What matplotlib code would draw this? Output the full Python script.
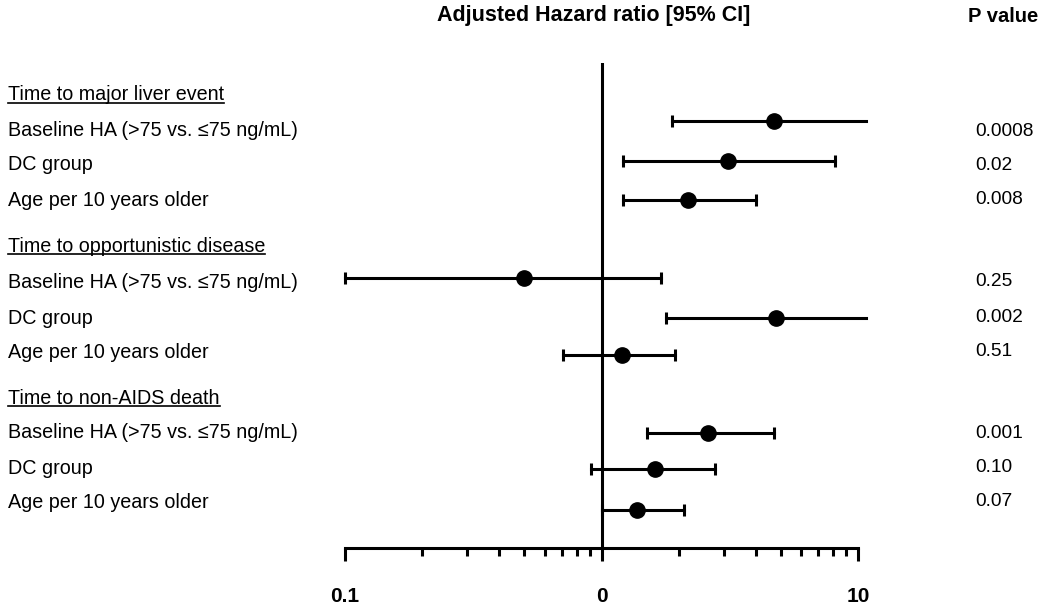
import matplotlib
matplotlib.use("Agg")
import matplotlib.pyplot as plt
from matplotlib.ticker import LogLocator, NullFormatter, FixedLocator, FixedFormatter
from matplotlib.transforms import blended_transform_factory
from matplotlib.lines import Line2D

plt.rcParams['font.family'] = ['Liberation Sans', 'DejaVu Sans']

# Data
groups = ["Time to major liver event", "Time to opportunistic disease", "Time to non-AIDS death"]
variables = ["Baseline HA (>75 vs. \u226475 ng/mL)", "DC group", "Age per 10 years older"]
hr = [4.69, 3.10, 2.18, 0.50, 4.77, 1.20, 2.59, 1.61, 1.38]
ci_low = [1.89, 1.21, 1.21, 0.10, 1.79, 0.705, 1.50, 0.906, 1.00]
ci_high = [10.7, 8.17, 4.02, 1.71, 10.7, 1.93, 4.69, 2.78, 2.09]
p_values = ["0.0008", "0.02", "0.008", "0.25", "0.002", "0.51", "0.001", "0.10", "0.07"]
tick_vals = [0.1, 1, 10]
tick_labels = ["0.1", "0", "10"]

# layout (pixel rows from top)
W, H = 1050, 610
header_y = [95, 246, 398]
bar_y = [121, 161, 200, 278, 318, 355, 433, 469, 510]
label_y = [131, 165, 200, 282, 318, 352, 433, 468, 502]

fig = plt.figure(figsize=(W / 100, H / 100), dpi=100)
ax = fig.add_axes([345 / W, (H - 548) / H, (858 - 345) / W, (548 - 63) / H])
ax.set_xscale("log")
ax.set_xlim(0.1, 10)
ax.set_ylim(548, 63)

lw = 2.2
ax.axvline(1, color="black", lw=lw, zorder=1)

for i in range(len(hr)):
    y = bar_y[i]
    ax.plot([ci_low[i], ci_high[i]], [y, y], color="black", lw=lw, clip_on=False, zorder=2)
    for end in (ci_low[i], ci_high[i]):
        if 0.1 <= end <= 10:
            ax.plot([end], [y], marker="|", markersize=8, markeredgewidth=lw,
                    color="black", clip_on=False, zorder=2)
    ax.plot([hr[i]], [y], marker="o", markersize=11, color="black", clip_on=False, zorder=3)

for s in ["top", "right", "left"]:
    ax.spines[s].set_visible(False)
ax.spines["bottom"].set_linewidth(lw)
ax.set_yticks([])

ax.xaxis.set_major_locator(FixedLocator(tick_vals))
ax.xaxis.set_major_formatter(FixedFormatter(tick_labels))
ax.xaxis.set_minor_locator(LogLocator(base=10, subs=range(2, 10)))
ax.xaxis.set_minor_formatter(NullFormatter())
ax.tick_params(axis="x", which="major", direction="out", length=9, width=lw, pad=19,
               labelsize=15)
ax.tick_params(axis="x", which="minor", direction="out", length=6, width=lw)
for t in ax.get_xticklabels():
    t.set_fontweight("bold")

trans = blended_transform_factory(fig.transFigure, ax.transData)

fig.text(594 / W, 1 - 16 / H, "Adjusted Hazard ratio [95% CI]", ha="center", va="center",
         fontsize=15.5, fontweight="bold")
fig.text(1003 / W, 1 - 16 / H, "P value", ha="center", va="center",
         fontsize=14.5, fontweight="bold")

head_texts = []
for g, name in enumerate(groups):
    t = ax.text(8 / W, header_y[g], name, transform=trans, ha="left", va="center", fontsize=14.2)
    head_texts.append(t)
    for k, var in enumerate(variables):
        i = g * 3 + k
        ax.text(8 / W, label_y[i], var, transform=trans, ha="left", va="center", fontsize=14.2)
        ax.text(975 / W, label_y[i], p_values[i], transform=trans, ha="left", va="center",
                fontsize=13.8)

# underline group headers
fig.canvas.draw()
r = fig.canvas.get_renderer()
for t in head_texts:
    bb = t.get_window_extent(r)
    x0, x1 = bb.x0 / W, bb.x1 / W
    yb = (bb.y0 + 2) / H
    fig.add_artist(Line2D([x0, x1], [yb, yb], transform=fig.transFigure, color="black", lw=1.2))

fig.savefig("out.png", dpi=100)
